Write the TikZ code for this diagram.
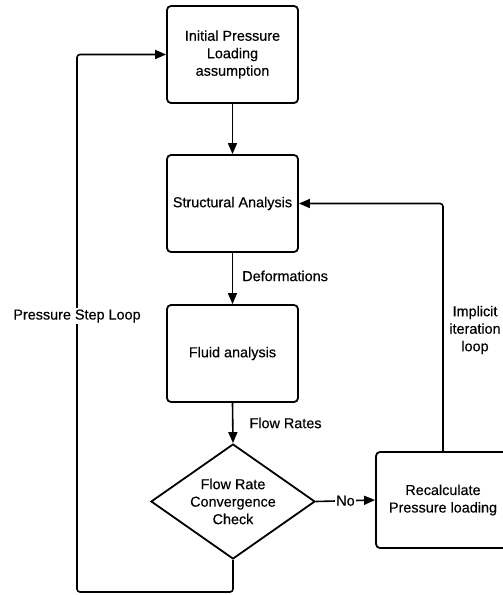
\documentclass[tikz,border=0pt]{standalone}
\usepackage{fontspec}
\setmainfont[FakeBold=0.4]{Liberation Sans}
\usetikzlibrary{arrows.meta,shapes.geometric}
\begin{document}
\begin{tikzpicture}[x=1pt,y=-1pt,
  every node/.style={font=\fontsize{14.4}{17.5}\selectfont},
  procbox/.style={draw,line width=1.8pt,rounded corners=4pt,minimum width=131pt,minimum height=97pt,align=center,inner sep=0pt},
  arr/.style={line width=1.6pt,-{Triangle[length=11pt,width=9pt]}},
  loopline/.style={arr,rounded corners=3pt},
  lbl/.style={inner sep=1pt,align=center}]
\useasboundingbox (0,0) rectangle (503,595);
\node[procbox] (b1) at (232.5,54.5) {Initial Pressure\\Loading\\assumption};
\node[procbox] (b2) at (232.5,203.5) {Structural Analysis};
\node[procbox] (b3) at (232.5,353.5) {Fluid analysis};
\node[draw,line width=1.8pt,diamond,minimum width=164pt,minimum height=115pt,inner sep=0pt,align=center,shape aspect=1.43] (dia) at (233,501.5) {Flow Rate\\Convergence\\Check};
\node[procbox,minimum width=134pt,minimum height=96pt] (rc) at (443,500) {Recalculate\\Pressure loading};
\draw[arr] (b1.south) -- (b2.north);
\draw[arr] (b2.south) -- node[lbl,anchor=west,pos=0.45,xshift=8pt] {Deformations} (b3.north);
\draw[arr] (b3.south) -- node[lbl,anchor=west,pos=0.5,xshift=15pt] {Flow Rates} (dia.north);
\draw[arr] (dia.east) -- node[lbl,fill=white,pos=0.5] {No} (rc.west);
\coordinate (pl) at (77,592);
\draw[loopline] (dia.south) |- (pl) |- (b1.west);
\node[lbl,fill=white] (psl) at (77,316) {Pressure Step Loop};
\draw[loopline] (rc.north) |- (b2.east);
\node[lbl] (iil) at (475,330) {Implicit\\iteration\\loop};
\end{tikzpicture}
\end{document}
